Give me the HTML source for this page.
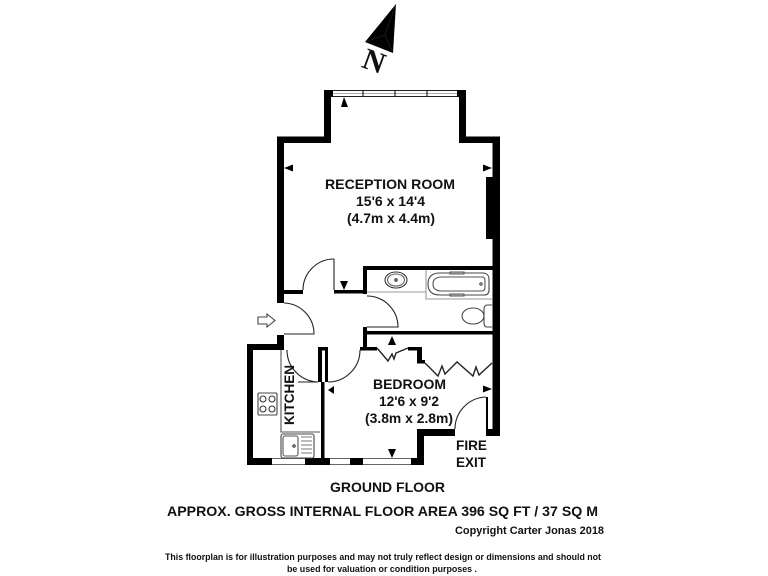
<!DOCTYPE html>
<html><head><meta charset="utf-8"><style>
html,body{margin:0;padding:0;background:#fff;width:768px;height:576px;overflow:hidden}
svg{display:block;filter:blur(.35px)}
text{font-family:"Liberation Sans",sans-serif;fill:#111}
</style></head><body>
<svg width="768" height="576" viewBox="0 0 768 576" xmlns="http://www.w3.org/2000/svg">
<!-- compass -->
<polygon points="396,4 365,42 393,53" fill="#000"/>
<path d="M365,42 L385,35 L393,53 M385,35 L396,4" stroke="#333" stroke-width=".5" fill="none"/>
<text x="0" y="0" transform="translate(373,64) rotate(20)" text-anchor="middle" dominant-baseline="middle" style="font-family:'Liberation Serif',serif;font-weight:bold" font-size="30" fill="#000">N</text>

<!-- solid walls -->
<g fill="#000">
<path d="M324,90 H333 V97 H331 V143 H284 V279 H277 V136.5 H324 Z"/>
<path d="M457,90 H466 V136.5 H500 V436 H486 V429 H492.5 V143 H459 V97 H457 Z"/>
<rect x="486" y="177" width="8" height="62"/>
<rect x="277" y="270" width="7" height="33"/>
<rect x="284" y="290" width="19" height="4"/>
<rect x="334" y="290" width="33" height="3.5"/>
<rect x="363" y="266" width="130" height="4"/>
<rect x="363" y="266" width="4" height="28"/>
<rect x="363" y="327" width="4" height="23"/>
<rect x="363" y="331" width="130" height="3.5"/>
<rect x="277" y="335" width="7" height="15"/>
<path d="M247,344 H284 V350 H253 V458 H272 V465 H247 Z"/>
<rect x="305" y="458" width="25" height="7"/>
<rect x="350" y="458" width="13" height="7"/>
<rect x="411" y="458" width="13" height="7"/>
<rect x="417" y="429" width="7" height="36"/>
<rect x="417" y="429" width="38" height="7"/>
<rect x="318" y="347" width="10" height="3.5"/>
<rect x="318" y="347" width="4" height="35"/>
<rect x="325" y="347" width="3" height="35"/>
<rect x="321" y="382" width="3.5" height="76"/>
<rect x="360" y="347" width="17" height="3.5"/>
<rect x="408" y="347" width="13" height="3.5"/>
<rect x="417" y="347" width="5" height="16"/>
<rect x="417" y="360" width="8" height="3.5"/>
<rect x="486" y="397" width="2" height="32"/>
</g>

<!-- windows -->
<g stroke="#222" fill="none">
<path d="M333,90.5 H457 M333,96.5 H457" stroke-width="1"/>
<path d="M333,93.5 H457" stroke="#aaa" stroke-width="1"/>
<path d="M363,90 V97 M395,90 V97 M427,90 V97" stroke-width="1.2"/>
<path d="M272,458.5 H305 M272,464.5 H305 M330,458.5 H350 M330,464.5 H350 M363,458.5 H411 M363,464.5 H411" stroke="#666" stroke-width="1"/>
</g>

<!-- doors -->
<g fill="none" stroke="#222" stroke-width="1.1">
<path d="M334,259 V290"/><path d="M334,259 A31,31 0 0 0 303,290"/>
<path d="M367,296 A31,31 0 0 1 398,327 H367"/>
<path d="M284,303 A31,31 0 0 1 314,334 H284"/>
<path d="M287,350 A32,32 0 0 0 318,382 H298"/>
<path d="M360,350 A32,32 0 0 1 328,382"/>
<path d="M486,397 A32,32 0 0 0 455,429"/>
<path d="M377,348 L388,361 L392,354 L394,359 L396,353 L408,348" stroke-width="1.4"/>
<path d="M425,363 L438,376 L442,366 L445,374 L457,362 L473,376 L476,367 L479,375 L492,363" stroke-width="1.4"/>
<path d="M258,317 H267 V314 L275,320.5 L267,327 V324 H258 Z" stroke="#444"/>
<path d="M281,350 V432 H320" stroke="#555"/>
<rect x="258" y="393" width="19" height="22" rx="1" stroke="#444"/>
<circle cx="263" cy="399" r="3" stroke="#333"/><circle cx="272" cy="399" r="3" stroke="#333"/>
<circle cx="263" cy="409" r="3" stroke="#333"/><circle cx="272" cy="409" r="3" stroke="#333"/>
<rect x="281" y="434" width="33" height="24" rx="2" stroke="#444"/>
<rect x="283" y="436" width="15" height="20" rx="2" stroke="#555"/>
<path d="M301,437 H312 M301,441 H312 M301,445 H312 M301,449 H312 M301,453 H312" stroke="#777"/>
<circle cx="294" cy="446" r="1.2" stroke="#333"/>
<path d="M367,292 H426 V270 M426,292 V299 H492" stroke="#999"/>
<ellipse cx="396" cy="280" rx="11" ry="8" stroke="#333"/>
<ellipse cx="396" cy="280" rx="8.5" ry="6" stroke="#666"/>
<circle cx="396" cy="280" r="1.2" stroke="#222"/>
<path d="M440,273 H484 Q489,274 489,279 V290 Q489,295 484,295 H440 Q428,295 428,284 Q428,273 440,273 Z" stroke="#444"/>
<path d="M442,277 H483 Q485,278 485,281 V287 Q485,291 482,291 H442 Q433,291 433,284 Q433,277 442,277 Z" stroke="#555"/>
<path d="M450,272 H464 V274 H450 Z M450,294 H464 V296 H450 Z" stroke="#555" fill="#bbb"/>
<circle cx="481" cy="284" r="1.2" stroke="#444"/>
<ellipse cx="473" cy="316" rx="11" ry="8" stroke="#444"/>
<path d="M492,305 H487 Q484,306 484,309 V323 Q484,327 487,327 H492" stroke="#444"/>
</g>

<!-- dimension markers -->
<g fill="#000">
<polygon points="344,97 348,107 341,107"/>
<polygon points="284,168 293,164.5 293,171.5"/>
<polygon points="492,168 483,164.5 483,171.5"/>
<polygon points="344,290 340,281 348,281"/>
<polygon points="392,336 396,345 388,345"/>
<polygon points="328,390 334,386 334,394"/>
<polygon points="492,389 483,385.5 483,392.5"/>
<polygon points="392,458 388,449 396,449"/>
</g>

<!-- labels -->
<g font-weight="bold" text-anchor="middle">
<text x="390" y="189" font-size="14" textLength="130" lengthAdjust="spacingAndGlyphs">RECEPTION ROOM</text>
<text x="390.5" y="206" font-size="14" textLength="69" lengthAdjust="spacingAndGlyphs">15'6 x 14'4</text>
<text x="391" y="223" font-size="14" textLength="88" lengthAdjust="spacingAndGlyphs">(4.7m x 4.4m)</text>
<text x="409.5" y="389" font-size="14" textLength="73" lengthAdjust="spacingAndGlyphs">BEDROOM</text>
<text x="409" y="406" font-size="14" textLength="60" lengthAdjust="spacingAndGlyphs">12'6 x 9'2</text>
<text x="409" y="423" font-size="14" textLength="88" lengthAdjust="spacingAndGlyphs">(3.8m x 2.8m)</text>
<text transform="translate(294,395) rotate(-90)" font-size="14" textLength="60" lengthAdjust="spacingAndGlyphs">KITCHEN</text>
<text x="471.5" y="450" font-size="14" textLength="31" lengthAdjust="spacingAndGlyphs">FIRE</text>
<text x="471" y="467" font-size="14" textLength="30" lengthAdjust="spacingAndGlyphs">EXIT</text>
<text x="387.5" y="492" font-size="14" textLength="115" lengthAdjust="spacingAndGlyphs">GROUND FLOOR</text>
<text x="382.5" y="516" font-size="14" textLength="431" lengthAdjust="spacingAndGlyphs">APPROX. GROSS INTERNAL FLOOR AREA 396 SQ FT / 37 SQ M</text>
<text x="529.5" y="534" font-size="11" textLength="149" lengthAdjust="spacingAndGlyphs">Copyright Carter Jonas 2018</text>
<text x="383" y="560" font-size="9" textLength="436" lengthAdjust="spacingAndGlyphs">This floorplan is for illustration purposes and may not truly reflect design or dimensions and should not</text>
<text x="382" y="572" font-size="9" textLength="190" lengthAdjust="spacingAndGlyphs">be used for valuation or condition purposes  .</text>
</g>
</svg>
</body></html>
